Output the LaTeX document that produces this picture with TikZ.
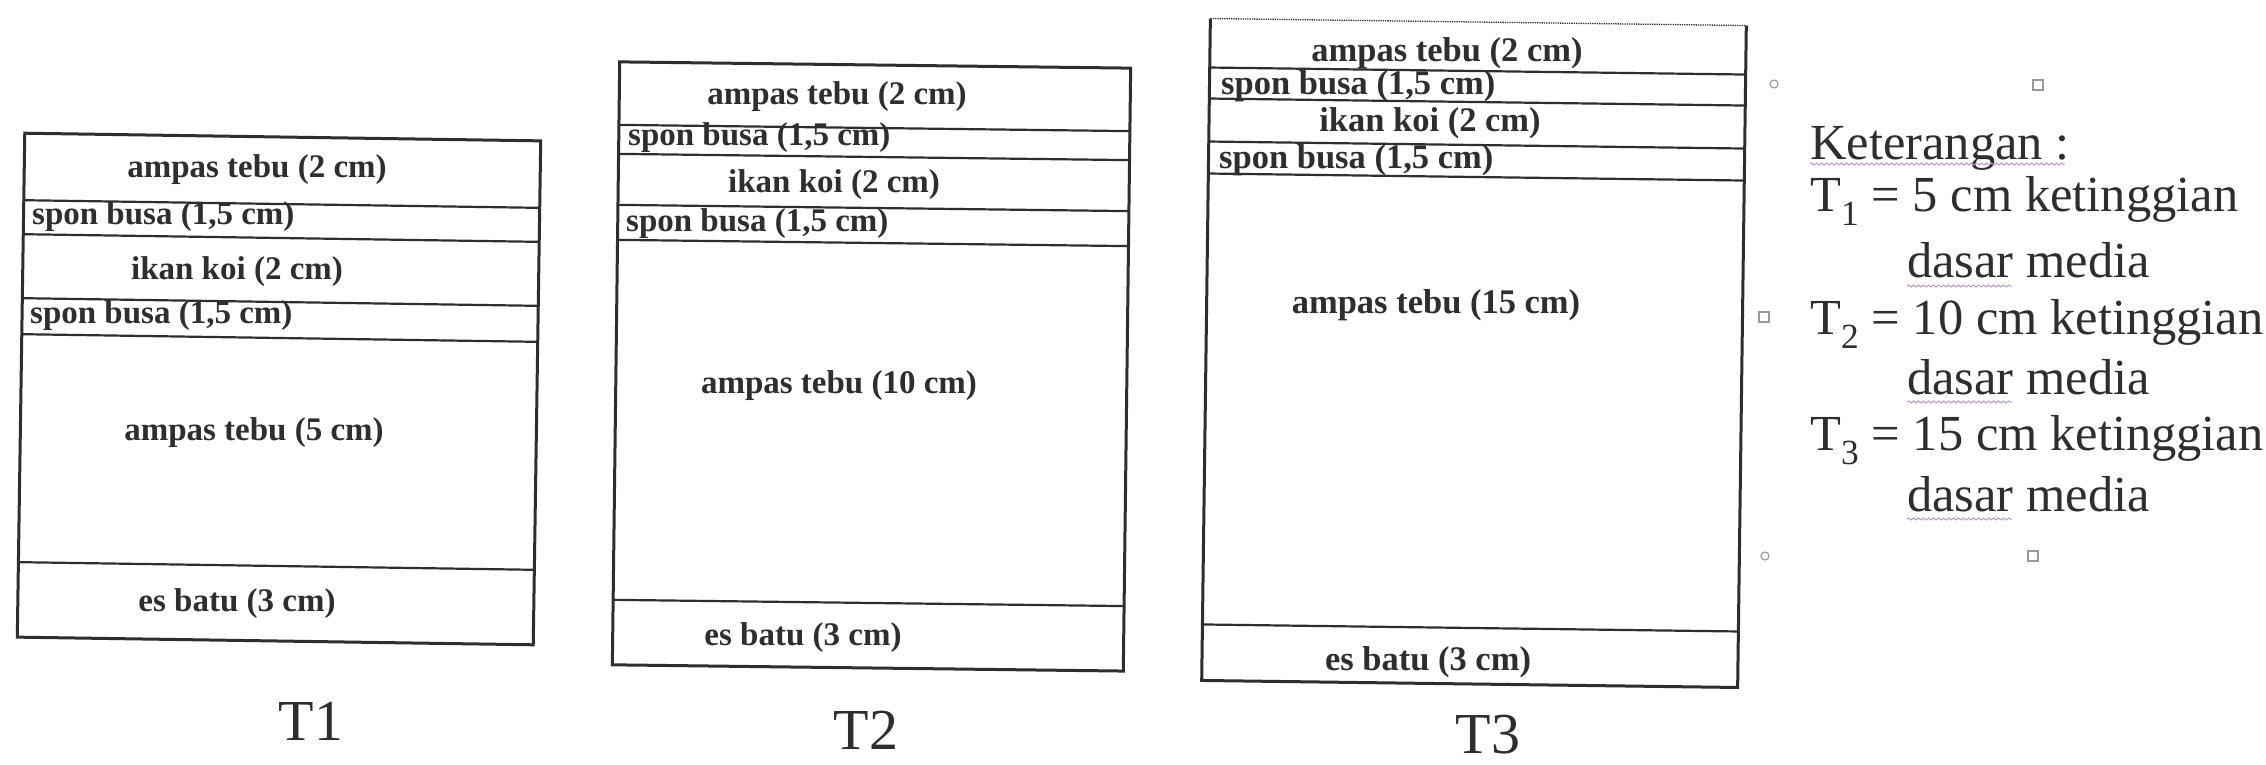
\documentclass[tikz,border=0pt]{standalone}
\usepackage{fontspec}
\setmainfont{Liberation Serif}
\usetikzlibrary{decorations.pathmorphing}
\definecolor{ink}{HTML}{2E2E2E}
\definecolor{squig}{HTML}{B89AC8}
\definecolor{handle}{HTML}{9A9A9A}
\begin{document}
\begin{tikzpicture}[x=1pt,y=-1pt,
  outer/.style={draw=ink, line width=3pt},
  layer/.style={draw=ink, line width=2.2pt},
  lbl/.style={font=\fontsize{33}{38}\selectfont\bfseries, text=ink, inner sep=0pt},
  lblw/.style={lbl, font=\fontsize{34.5}{38}\selectfont\bfseries},
  captxt/.style={font=\fontsize{58}{64}\selectfont, inner sep=0pt, text=ink},
  leg/.style={font=\fontsize{50.5}{56}\selectfont, inner sep=0pt, anchor=base west, text=ink},
  squiggle/.style={draw=squig, line width=1pt, decorate, decoration={snake, amplitude=1pt, segment length=5pt}},
  hnd/.style={draw=handle, line width=1.2pt}
]
\useasboundingbox (0,0) rectangle (2266,765);
\fill[white] (0,0) rectangle (2266,765);

% ---- T1 ----
\begin{scope}[rotate around={-0.85:(279,389)}]
\draw[outer] (21,137) rectangle (537,641);
\foreach \yy in {204,238,302,338,566} \draw[layer] (21,\yy) -- (537,\yy);
\end{scope}
\node[lbl] (t1a) at (257,170) {ampas tebu (2 cm)};
\node[lbl,anchor=west] (t1b) at (32,217) {spon busa (1,5 cm)};
\node[lbl] (t1c) at (237,272) {ikan koi (2 cm)};
\node[lbl,anchor=west] (t1d) at (30,316) {spon busa (1,5 cm)};
\node[lbl] (t1e) at (254,433) {ampas tebu (5 cm)};
\node[lbl] (t1f) at (237,604) {es batu (3 cm)};

% ---- T2 ----
\begin{scope}[rotate around={-0.7:(874,366)}]
\draw[outer] (616,65) rectangle (1127,668);
\foreach \yy in {128,157,208,243,603} \draw[layer] (616,\yy) -- (1127,\yy);
\end{scope}
\node[lbl] (t2a) at (837,97) {ampas tebu (2 cm)};
\node[lbl,anchor=west] (t2b) at (628,138) {spon busa (1,5 cm)};
\node[lbl] (t2c) at (834,185) {ikan koi (2 cm)};
\node[lbl,anchor=west] (t2d) at (626,224) {spon busa (1,5 cm)};
\node[lbl] (t2e) at (839,386) {ampas tebu (10 cm)};
\node[lbl] (t2f) at (803,638) {es batu (3 cm)};

% ---- T3 ----
\begin{scope}[rotate around={-0.75:(1474,353)}]
\draw[outer] (1206,22) -- (1206,684) -- (1742,684) -- (1742,22);
\draw[ink, line width=1.3pt, densely dotted] (1206,22) -- (1742,22);
\foreach \yy in {71,102,145,177,628} \draw[layer] (1206,\yy) -- (1742,\yy);
\end{scope}
\node[lblw] (t3a) at (1447,53) {ampas tebu (2 cm)};
\node[lblw,anchor=west] (t3b) at (1221,86) {spon busa (1,5 cm)};
\node[lblw] (t3c) at (1430,123) {ikan koi (2 cm)};
\node[lblw,anchor=west] (t3d) at (1219,160) {spon busa (1,5 cm)};
\node[lblw] (t3e) at (1436,305) {ampas tebu (15 cm)};
\node[lblw] (t3f) at (1428,662) {es batu (3 cm)};

% ---- captions ----
\node[captxt] (c1) at (311,721) {T1};
\node[captxt] (c2) at (866,730) {T2};
\node[captxt] (c3) at (1488,735) {T3};

% ---- legend ----
\node[leg] (k0) at (1810,159) {Keterangan :};
\node[leg] (k1) at (1810,211) {T\textsubscript{1} = 5 cm ketinggian};
\node[leg] (k1b) at (1907,277) {dasar media};
\node[leg] (k2) at (1810,334) {T\textsubscript{2} = 10 cm ketinggian};
\node[leg] (k2b) at (1907,394) {dasar media};
\node[leg] (k3) at (1810,450) {T\textsubscript{3} = 15 cm ketinggian};
\node[leg] (k3b) at (1907,511) {dasar media};

\draw[squiggle] (1810,164) -- (2065,164);
\draw[squiggle] (1907,286) -- (2012,286);
\draw[squiggle] (1907,402) -- (2012,402);
\draw[squiggle] (1907,519) -- (2012,519);

% ---- text-box handles ----
\draw[hnd] (1774,84) circle (4pt);
\draw[hnd] (2033,80) rectangle (2043,90);
\draw[hnd] (1759,312) rectangle (1769,322);
\draw[hnd] (1765,556) circle (4pt);
\draw[hnd] (2028,551) rectangle (2038,561);
\end{tikzpicture}
\end{document}
